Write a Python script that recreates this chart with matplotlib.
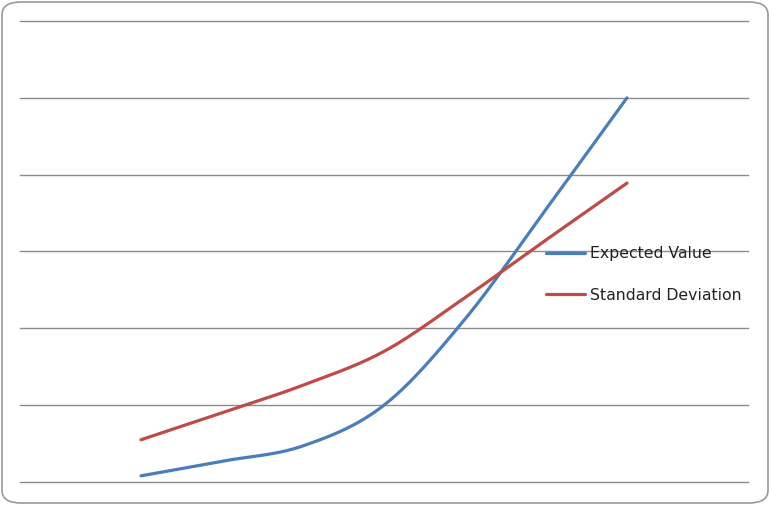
import numpy as np
import matplotlib.pyplot as plt
from matplotlib.patches import FancyBboxPatch

# data (7 points per series, y in gridline units)
points = [1, 2, 3, 4, 5, 6, 7]
expected_value = [0.08, 0.27, 0.47, 1.00, 2.12, 3.55, 5.00]
standard_deviation = [0.55, 0.90, 1.26, 1.70, 2.40, 3.15, 3.89]
labels = ["Expected Value", "Standard Deviation"]


def smooth(x, y, n=40):
    # Catmull-Rom spline, similar to Excel's "smoothed line"
    x = np.asarray(x, float)
    y = np.asarray(y, float)
    px = np.concatenate([[2 * x[0] - x[1]], x, [2 * x[-1] - x[-2]]])
    py = np.concatenate([[2 * y[0] - y[1]], y, [2 * y[-1] - y[-2]]])
    xs, ys = [], []
    t = np.linspace(0, 1, n)
    for i in range(1, len(px) - 2):
        for p, out in ((px, xs), (py, ys)):
            p0, p1, p2, p3 = p[i - 1], p[i], p[i + 1], p[i + 2]
            out.extend(0.5 * (2 * p1 + (-p0 + p2) * t
                              + (2 * p0 - 5 * p1 + 4 * p2 - p3) * t ** 2
                              + (-p0 + 3 * p1 - 3 * p2 + p3) * t ** 3))
    return xs, ys


fig = plt.figure(figsize=(7.7, 5.05), dpi=100)
fig.patch.set_facecolor("white")

border = FancyBboxPatch((2 / 770, 2 / 505), 766 / 770, 501 / 505,
                        boxstyle="round,pad=0,rounding_size=0.025",
                        transform=fig.transFigure, facecolor="none",
                        edgecolor="#9a9a9a", linewidth=1.2, zorder=5)
fig.patches.append(border)

ax = fig.add_axes([20 / 770, 23 / 505, 728 / 770, 461 / 505])
ax.set_facecolor("none")

sx, sy = smooth(points, expected_value)
ax.plot(sx, sy, color="#4a7ebb", linewidth=2.3, label=labels[0],
        solid_capstyle="round")
sx, sy = smooth(points, standard_deviation)
ax.plot(sx, sy, color="#be4b48", linewidth=2.3, label=labels[1],
        solid_capstyle="round")

ax.set_ylim(0, 6)
ax.set_xlim(1 - 121 / 81, 7 + 121 / 81)
ax.set_yticks(range(0, 7))
ax.yaxis.grid(True, color="#8c8c8c", linewidth=1)
for gl in ax.get_ygridlines():
    gl.set_clip_on(False)
ax.set_axisbelow(True)
ax.tick_params(left=False, bottom=False, labelleft=False, labelbottom=False)
for s in ax.spines.values():
    s.set_visible(False)

ax.legend(loc="upper left", bbox_to_anchor=(546 / 770, 1 - 246 / 505),
          bbox_transform=fig.transFigure, frameon=False, fontsize=11.3,
          handlelength=2.5, handletextpad=0.3, labelspacing=1.7,
          borderpad=0, borderaxespad=0, labelcolor="#222222")

fig.savefig("out.png", dpi=100)
